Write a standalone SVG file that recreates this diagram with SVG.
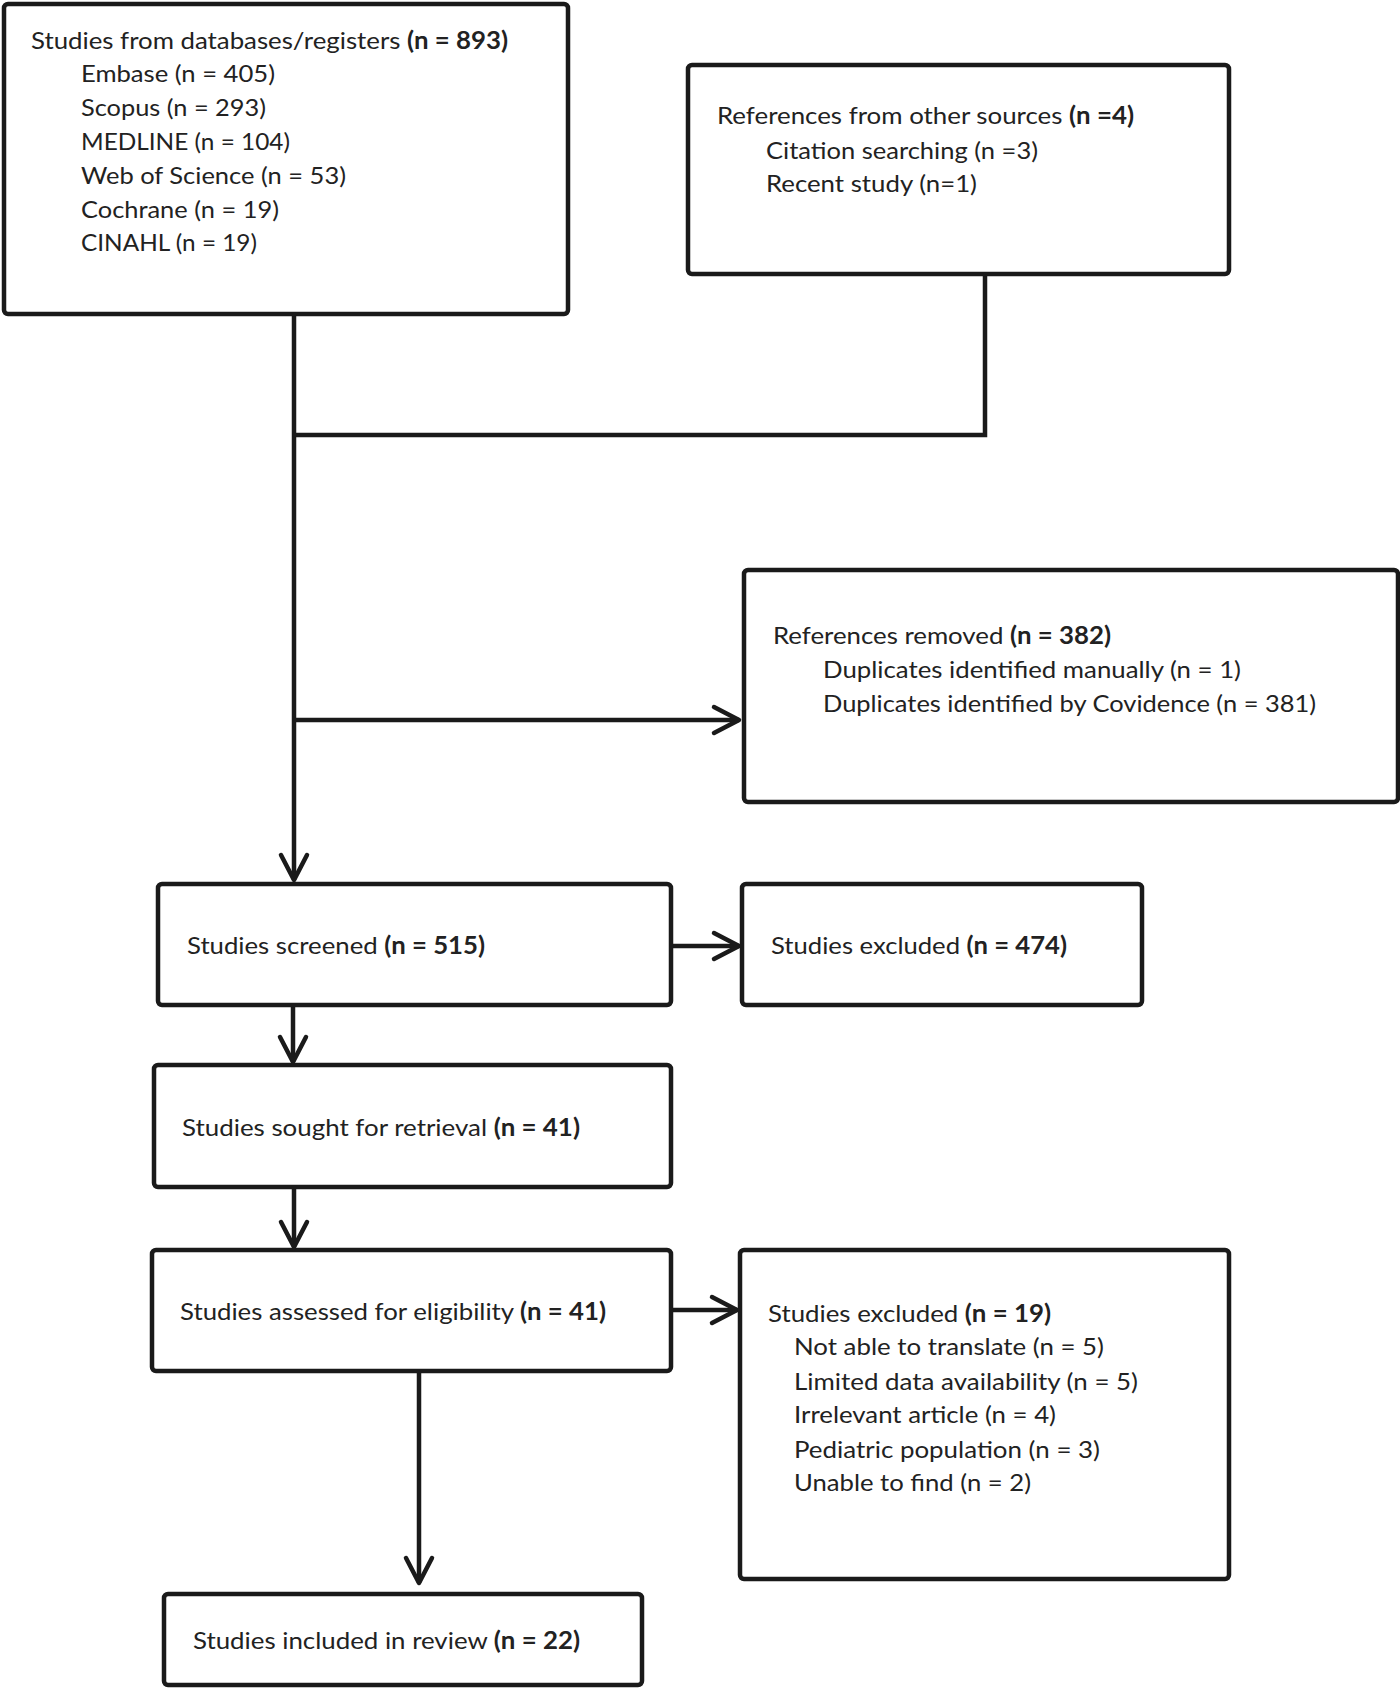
<svg xmlns="http://www.w3.org/2000/svg" width="1400" height="1689" viewBox="0 0 1400 1689">
<defs>
<style>
.box{fill:#fff;stroke:#1a1a1a;stroke-width:4.5}
.con{fill:none;stroke:#1a1a1a;stroke-width:4.5}
text{font-family:Lato,"Open Sans","Liberation Sans",sans-serif;font-size:24px;fill:#222}
.b{font-weight:bold}
</style>
<marker id="arr" viewBox="-30 -20 40 40" refX="0" refY="0" markerWidth="40" markerHeight="40" markerUnits="userSpaceOnUse" orient="auto">
<path d="M-25,-13 L0,0 L-25,13" fill="none" stroke="#1a1a1a" stroke-width="4.5" stroke-linecap="round" stroke-linejoin="round"/>
</marker>
</defs>
<rect width="1400" height="1689" fill="#fff"/>
<g id="connectors">
<path class="con" d="M294,315 V880" marker-end="url(#arr)"/>
<path class="con" d="M985,275 V435 H294"/>
<path class="con" d="M294,720 H739" marker-end="url(#arr)"/>
<path class="con" d="M671,946 H739" marker-end="url(#arr)"/>
<path class="con" d="M293,1006 V1062" marker-end="url(#arr)"/>
<path class="con" d="M294,1188 V1247" marker-end="url(#arr)"/>
<path class="con" d="M671,1310 H737" marker-end="url(#arr)"/>
<path class="con" d="M419,1372 V1583" marker-end="url(#arr)"/>
</g>
<g id="databases">
<rect class="box" x="4" y="4" width="564" height="310" rx="4"/>
<text x="31" y="49" textLength="477" lengthAdjust="spacingAndGlyphs">Studies from databases/registers <tspan class="b">(n = 893)</tspan></text>
<text x="81" y="82" textLength="194" lengthAdjust="spacingAndGlyphs">Embase (n = 405)</text>
<text x="81" y="116" textLength="185" lengthAdjust="spacingAndGlyphs">Scopus (n = 293)</text>
<text x="81" y="150" textLength="209" lengthAdjust="spacingAndGlyphs">MEDLINE (n = 104)</text>
<text x="81" y="184" textLength="265" lengthAdjust="spacingAndGlyphs">Web of Science (n = 53)</text>
<text x="81" y="218" textLength="198" lengthAdjust="spacingAndGlyphs">Cochrane (n = 19)</text>
<text x="81" y="251" textLength="176" lengthAdjust="spacingAndGlyphs">CINAHL (n = 19)</text>
</g>
<g id="other-sources">
<rect class="box" x="688" y="65" width="541" height="209" rx="4"/>
<text x="717" y="124" textLength="417" lengthAdjust="spacingAndGlyphs">References from other sources <tspan class="b">(n =4)</tspan></text>
<text x="766" y="159" textLength="272" lengthAdjust="spacingAndGlyphs">Citation searching (n =3)</text>
<text x="766" y="192" textLength="211" lengthAdjust="spacingAndGlyphs">Recent study (n=1)</text>
</g>
<g id="removed">
<rect class="box" x="744" y="570" width="654" height="232" rx="4"/>
<text x="773" y="644" textLength="338" lengthAdjust="spacingAndGlyphs">References removed <tspan class="b">(n = 382)</tspan></text>
<text x="823" y="678" textLength="418" lengthAdjust="spacingAndGlyphs">Duplicates identified manually (n = 1)</text>
<text x="823" y="712" textLength="493" lengthAdjust="spacingAndGlyphs">Duplicates identified by Covidence (n = 381)</text>
</g>
<g id="screened">
<rect class="box" x="158" y="884" width="513" height="121" rx="4"/>
<text x="187" y="954" textLength="298" lengthAdjust="spacingAndGlyphs">Studies screened <tspan class="b">(n = 515)</tspan></text>
</g>
<g id="excluded-screening">
<rect class="box" x="742" y="884" width="400" height="121" rx="4"/>
<text x="771" y="954" textLength="296" lengthAdjust="spacingAndGlyphs">Studies excluded <tspan class="b">(n = 474)</tspan></text>
</g>
<g id="retrieval">
<rect class="box" x="154" y="1065" width="517" height="122" rx="4"/>
<text x="182" y="1136" textLength="398" lengthAdjust="spacingAndGlyphs">Studies sought for retrieval <tspan class="b">(n = 41)</tspan></text>
</g>
<g id="eligibility">
<rect class="box" x="152" y="1250" width="519" height="121" rx="4"/>
<text x="180" y="1320" textLength="426" lengthAdjust="spacingAndGlyphs">Studies assessed for eligibility <tspan class="b">(n = 41)</tspan></text>
</g>
<g id="excluded-eligibility">
<rect class="box" x="740" y="1250" width="489" height="329" rx="4"/>
<text x="768" y="1322" textLength="283" lengthAdjust="spacingAndGlyphs">Studies excluded <tspan class="b">(n = 19)</tspan></text>
<text x="794" y="1355" textLength="310" lengthAdjust="spacingAndGlyphs">Not able to translate (n = 5)</text>
<text x="794" y="1390" textLength="344" lengthAdjust="spacingAndGlyphs">Limited data availability (n = 5)</text>
<text x="794" y="1423" textLength="262" lengthAdjust="spacingAndGlyphs">Irrelevant article (n = 4)</text>
<text x="794" y="1458" textLength="306" lengthAdjust="spacingAndGlyphs">Pediatric population (n = 3)</text>
<text x="794" y="1491" textLength="237" lengthAdjust="spacingAndGlyphs">Unable to find (n = 2)</text>
</g>
<g id="included">
<rect class="box" x="164" y="1594" width="478" height="91" rx="4"/>
<text x="193" y="1649" textLength="387" lengthAdjust="spacingAndGlyphs">Studies included in review <tspan class="b">(n = 22)</tspan></text>
</g>
</svg>
